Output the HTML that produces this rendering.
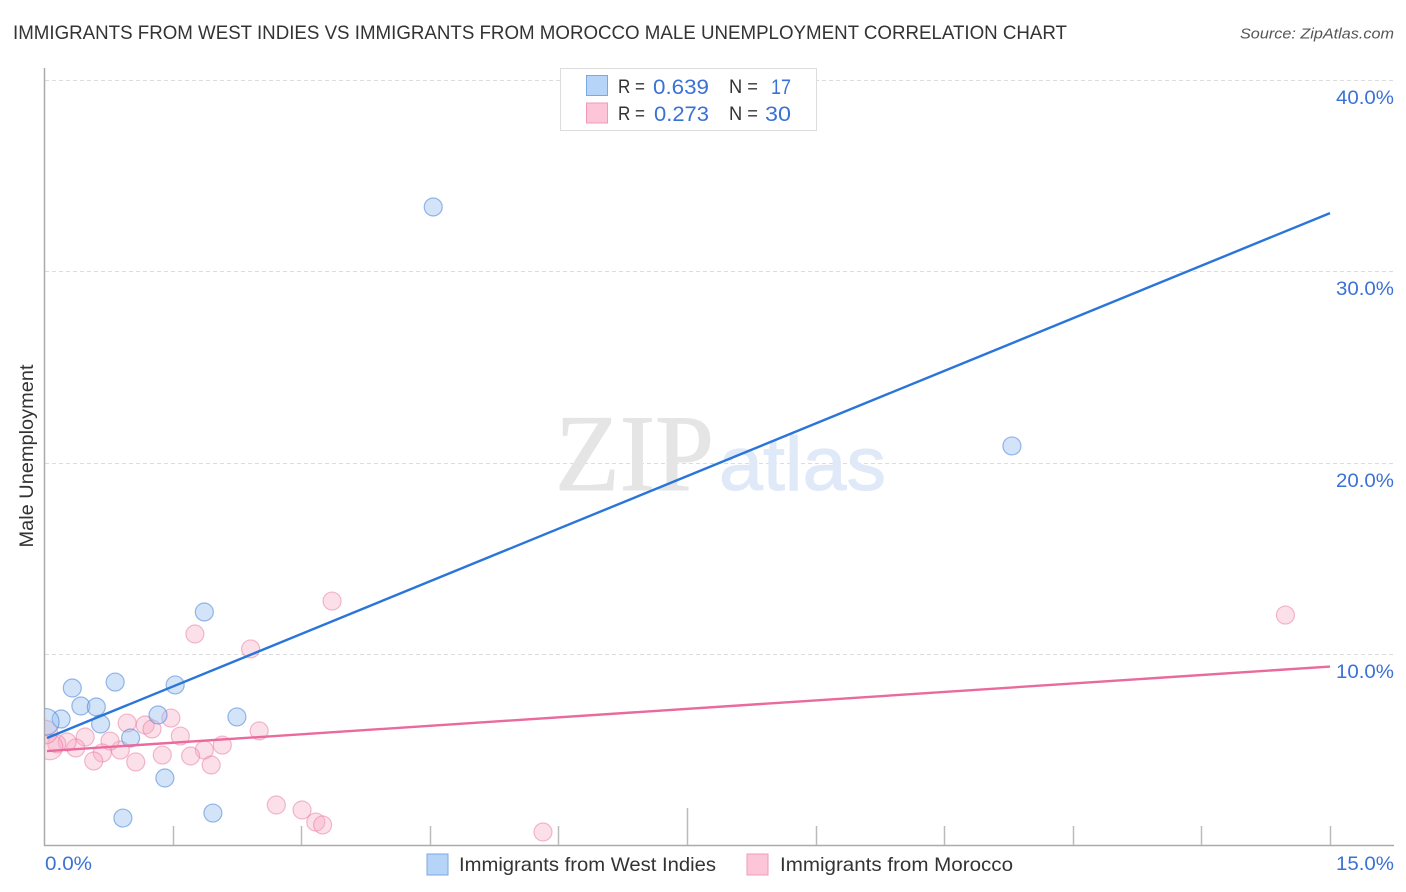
<!DOCTYPE html>
<html lang="en">
<head>
<meta charset="utf-8">
<title>Immigrants from West Indies vs Immigrants from Morocco Male Unemployment Correlation Chart</title>
<style>
html,body{margin:0;padding:0;background:#fff;}
body{width:1406px;height:892px;overflow:hidden;}
svg{display:block;font-family:"Liberation Sans",sans-serif;}
</style>
</head>
<body>
<svg id="chart" width="1406" height="892" viewBox="0 0 1406 892" xmlns="http://www.w3.org/2000/svg">
  <defs>
    <clipPath id="plot-clip"><rect x="45" y="60" width="1361" height="785"></rect></clipPath>
  </defs>
  <text x="13" y="39" font-size="19.5" fill="#333" textLength="1054" lengthAdjust="spacingAndGlyphs">IMMIGRANTS FROM WEST INDIES VS IMMIGRANTS FROM MOROCCO MALE UNEMPLOYMENT CORRELATION CHART</text>
  <text x="1394" y="38.500" font-size="15" font-style="italic" fill="#555" text-anchor="end" textLength="154" lengthAdjust="spacingAndGlyphs">Source: ZipAtlas.com</text>
  <g id="grid"></g>
  <g>
    <text x="555" y="490" font-family="'Liberation Serif',serif" font-size="109" fill="#e5e5e5" stroke="#e5e5e5" stroke-width="1" textLength="159" lengthAdjust="spacingAndGlyphs">ZIP</text>
    <text x="719" y="490" font-size="76" fill="#dfe9f8" stroke="#dfe9f8" stroke-width="1" textLength="167" lengthAdjust="spacingAndGlyphs">atlas</text>
  </g>
  <g id="axes"></g>
  <g id="points" clip-path="url(#plot-clip)"></g>
  <g id="trends"></g>
  <text transform="translate(33,456) rotate(-90)" font-size="19" fill="#333" text-anchor="middle" textLength="183" lengthAdjust="spacingAndGlyphs">Male Unemployment</text>
  <g>
    <rect x="560.500" y="68.500" width="256" height="62" fill="#fff" stroke="#ddd" stroke-width="1"></rect>
    <rect x="586.500" y="75.500" width="21" height="20" fill="#b6d3f8" stroke="#7aa9e6"></rect>
    <rect x="586.500" y="103" width="21" height="20" fill="#fcc6d8" stroke="#f09ab8"></rect>
    <text x="618" y="93" font-size="19" fill="#333" textLength="27" lengthAdjust="spacingAndGlyphs">R =</text>
    <text x="653" y="94" font-size="21.500" fill="#3a72d4" textLength="56" lengthAdjust="spacingAndGlyphs">0.639</text>
    <text x="729" y="93" font-size="19" fill="#333" textLength="29" lengthAdjust="spacingAndGlyphs">N =</text>
    <text x="771" y="94" font-size="21.500" fill="#3a72d4" textLength="20" lengthAdjust="spacingAndGlyphs">17</text>
    <text x="618" y="120" font-size="19" fill="#333" textLength="27" lengthAdjust="spacingAndGlyphs">R =</text>
    <text x="654" y="121" font-size="21.500" fill="#3a72d4" textLength="55" lengthAdjust="spacingAndGlyphs">0.273</text>
    <text x="729" y="120" font-size="19" fill="#333" textLength="29" lengthAdjust="spacingAndGlyphs">N =</text>
    <text x="765" y="121" font-size="21.500" fill="#3a72d4" textLength="26" lengthAdjust="spacingAndGlyphs">30</text>
  </g>
  <g>
    <rect x="427" y="854" width="21" height="21" fill="#b6d3f8" stroke="#7aa9e6"></rect>
    <text x="459" y="871" font-size="19.500" fill="#333" textLength="257" lengthAdjust="spacingAndGlyphs">Immigrants from West Indies</text>
    <rect x="747" y="854" width="21" height="21" fill="#fcc6d8" stroke="#f09ab8"></rect>
    <text x="780" y="871" font-size="19.500" fill="#333" textLength="233" lengthAdjust="spacingAndGlyphs">Immigrants from Morocco</text>
  </g>
</svg>
<script>
const xTickValues = [0, 1.5, 3, 4.5, 6, 7.5, 9, 10.5, 12, 13.5, 15];
const yGridValues = [10, 20, 30, 40];
const yTickLabels = ['10.0%', '20.0%', '30.0%', '40.0%'];
const xEndLabels = ['0.0%', '15.0%'];

const westIndiesX = [4.54, 11.29, 1.87, 0.83, 1.53, 0.33, 0.43, 0.61, 0.20, 0.02, 0.66, 1.33, 2.25, 1.01, 1.41, 1.97, 0.92];
const westIndiesY = [33.37, 20.89, 12.22, 8.56, 8.41, 8.25, 7.31, 7.26, 6.63, 6.48, 6.37, 6.84, 6.74, 5.64, 3.55, 1.72, 1.46];
const westIndiesWeight = [1, 1, 1, 1, 1, 1, 1, 1, 1, 2.2, 1, 1, 1, 1, 1, 1, 1];

const moroccoX = [3.36, 1.76, 2.41, 14.48, 0.97, 1.18, 1.26, 1.48, 1.59, 2.51, 2.08, 1.87, 1.71, 1.95, 1.38, 1.07, 0.89, 0.77, 0.68, 0.58, 0.48, 0.37, 0.27, 0.15, 0.07, 0.02, 2.71, 3.01, 3.17, 3.25, 5.82];
const moroccoY = [12.79, 11.07, 10.29, 12.06, 6.42, 6.32, 6.11, 6.68, 5.74, 6.01, 5.27, 5.01, 4.70, 4.23, 4.75, 4.39, 5.01, 5.48, 4.86, 4.44, 5.69, 5.12, 5.43, 5.33, 5.17, 5.95, 2.14, 1.88, 1.25, 1.10, 0.73];
const moroccoWeight = [1, 1, 1, 1, 1, 1, 1, 1, 1, 1, 1, 1, 1, 1, 1, 1, 1, 1, 1, 1, 1, 1, 1, 1, 2, 1.7, 1, 1, 1, 1, 1];

const westIndiesTrendX = [0.035, 15];
const westIndiesTrendY = [5.64, 33.05];
const moroccoTrendX = [0.035, 15];
const moroccoTrendY = [4.96, 9.37];

const NS = 'http://www.w3.org/2000/svg';
function xScale(v) { return 44 + v * (1330 - 44) / 15; }
function yScale(v) { return 846 - v * (846 - 80) / 40; }
function make(tag, attrs, parent) {
  const el = document.createElementNS(NS, tag);
  for (const k in attrs) el.setAttribute(k, attrs[k]);
  parent.appendChild(el);
  return el;
}

const gridG = document.getElementById('grid');
const axesG = document.getElementById('axes');
const pointsG = document.getElementById('points');
const trendsG = document.getElementById('trends');

yGridValues.forEach(function (v, i) {
  const y = Math.floor(yScale(v)) + 0.5;
  const line = make('line', {x1: 45, x2: 1394, y1: y, y2: y, stroke: '#dcdcdc', 'stroke-width': 1, 'stroke-dasharray': '4 3'}, gridG);
  
  
  const label = make('text', {x: 1394, y: y + 23.5, 'font-size': 19.5, fill: '#3a72d4', 'text-anchor': 'end', textLength: 58, lengthAdjust: 'spacingAndGlyphs'}, axesG);
  label.textContent = yTickLabels[i];
  
  
});

const yAxis = make('line', {x1: 44.5, x2: 44.5, y1: 68, y2: 846, stroke: '#aaa', 'stroke-width': 1.5}, axesG);


const xAxis = make('line', {x1: 44, x2: 1394, y1: 845.5, y2: 845.5, stroke: '#aaa', 'stroke-width': 1.5}, axesG);



xTickValues.forEach(function (v, i) {
  if (i === 0) return;
  const x = Math.round(xScale(v)) + 0.5;
  const top = i === 5 ? 808 : 826;
  const tick = make('line', {x1: x, x2: x, y1: top, y2: 845, stroke: '#bbb', 'stroke-width': 1.5}, axesG);
  
  
});

const xLabelLeft = make('text', {x: 45, y: 870, 'font-size': 19.5, fill: '#3a72d4', textLength: 47, lengthAdjust: 'spacingAndGlyphs'}, axesG);
xLabelLeft.textContent = xEndLabels[0];


const xLabelRight = make('text', {x: 1394, y: 870, 'font-size': 19.5, fill: '#3a72d4', 'text-anchor': 'end', textLength: 58, lengthAdjust: 'spacingAndGlyphs'}, axesG);
xLabelRight.textContent = xEndLabels[1];



function drawPoints(xs, ys, weights, fill, stroke, name) {
  xs.forEach(function (x, i) {
    const c = make('circle', {
      cx: xScale(x), cy: yScale(ys[i]), r: 9 * Math.sqrt(weights[i]),
      fill: fill, stroke: stroke, 'stroke-width': 1.2
    }, pointsG);
    
    
  });
}
drawPoints(moroccoX, moroccoY, moroccoWeight, 'rgba(248,170,195,0.36)', 'rgba(232,120,160,0.5)', 'morocco-point');
drawPoints(westIndiesX, westIndiesY, westIndiesWeight, 'rgba(150,190,240,0.42)', 'rgba(70,130,215,0.55)', 'west-indies-point');

const blueTrend = make('line', {
  x1: xScale(westIndiesTrendX[0]), y1: yScale(westIndiesTrendY[0]),
  x2: xScale(westIndiesTrendX[1]), y2: yScale(westIndiesTrendY[1]),
  stroke: '#2a75d9', 'stroke-width': 2.4
}, trendsG);



const pinkTrend = make('line', {
  x1: xScale(moroccoTrendX[0]), y1: yScale(moroccoTrendY[0]),
  x2: xScale(moroccoTrendX[1]), y2: yScale(moroccoTrendY[1]),
  stroke: '#ea6a9b', 'stroke-width': 2.4
}, trendsG);


</script>
</body>
</html>
